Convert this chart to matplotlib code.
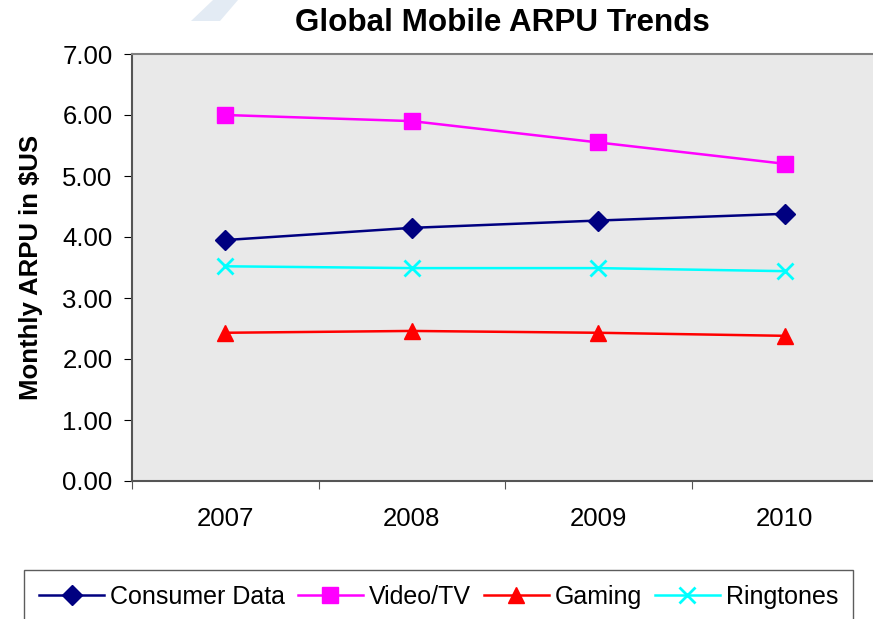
import matplotlib.pyplot as plt
from matplotlib.patches import Polygon

plt.rcParams['font.family'] = ['Liberation Sans', 'DejaVu Sans']

# datos
anios = ['2007', '2008', '2009', '2010']
consumer_data = [3.95, 4.15, 4.27, 4.38]
video_tv = [6.00, 5.90, 5.55, 5.20]
gaming = [2.43, 2.46, 2.43, 2.38]
ringtones = [3.52, 3.49, 3.49, 3.44]

W, H = 873, 619
fig = plt.figure(figsize=(W / 100, H / 100), dpi=100)

# marca de agua azul arriba a la izquierda
fig.patches.append(Polygon([(191 / W, 1 - 21 / H), (213 / W, 1.0), (238 / W, 1.0), (220 / W, 1 - 21 / H)],
                           closed=True, transform=fig.transFigure, facecolor='#e3ebf4', edgecolor='none'))

ax = fig.add_axes([132 / W, 1 - 481 / H, 746 / W, 427 / H])
ax.set_facecolor('#e9e9e9')

x = [i + 0.5 for i in range(len(anios))]
ax.plot(x, consumer_data, color='#000080', marker='D', markersize=10, linewidth=1.8, label='Consumer Data', clip_on=False)
ax.plot(x, video_tv, color='#ff00ff', marker='s', markersize=11.5, linewidth=1.8, label='Video/TV', clip_on=False)
ax.plot(x, gaming, color='#ff0000', marker='^', markersize=12, linewidth=1.8, label='Gaming', clip_on=False)
ax.plot(x, ringtones, color='#00ffff', marker='x', markersize=11.5, markeredgewidth=2, linewidth=1.8, label='Ringtones', clip_on=False)

ax.set_xlim(0, 4)
ax.set_ylim(0, 7)
ax.set_yticks(range(0, 8))
ax.set_yticklabels(['%.2f' % v for v in range(0, 8)])
ax.set_xticks(range(0, 5))
ax.set_xticklabels([])
ax.set_xticks(x, minor=True)
ax.set_xticklabels(anios, minor=True)
ax.tick_params(axis='x', which='minor', length=0, pad=19, labelsize=18.5)
ax.tick_params(axis='x', which='major', length=6, direction='out', color='#555555')
ax.tick_params(axis='y', length=6, direction='out', labelsize=18.5, pad=8)

for s in ['left', 'bottom']:
    ax.spines[s].set_color('#555555')
    ax.spines[s].set_linewidth(1.5)
ax.spines['top'].set_color('#808080')
ax.spines['top'].set_linewidth(1.5)
ax.spines['right'].set_visible(False)

ax.set_ylabel('Monthly ARPU in $US', fontsize=18.5, fontweight='bold', labelpad=14)
fig.text(502 / W, 1 - 23 / H, 'Global Mobile ARPU Trends', fontsize=22.6, fontweight='bold', ha='center', va='center')

leg = fig.legend(loc='upper left', bbox_to_anchor=(24 / W, 1 - 570 / H), ncol=4, fontsize=18,
                 frameon=True, fancybox=False, edgecolor='#333333', handlelength=2.6, handletextpad=0.25,
                 columnspacing=0.5, borderpad=0.6, borderaxespad=0)
leg.get_frame().set_linewidth(1.0)

fig.savefig('out.png', dpi=100)
